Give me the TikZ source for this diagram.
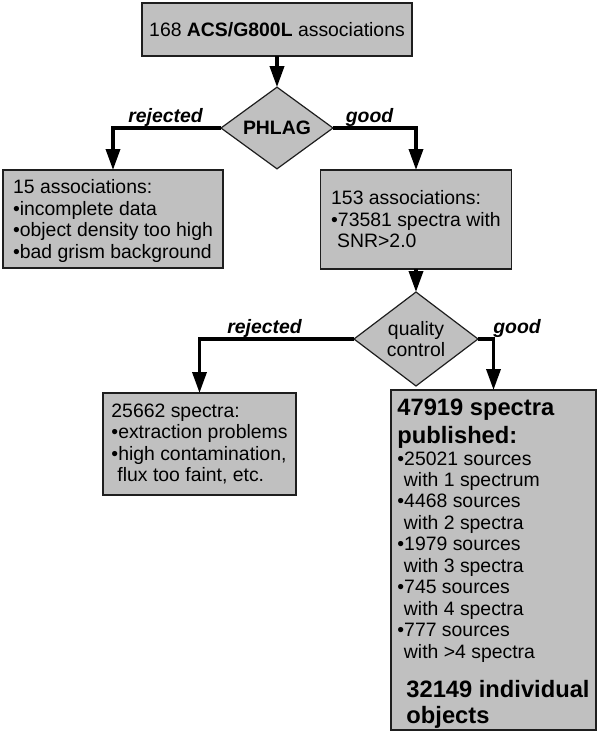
\documentclass[tikz,border=0pt]{standalone}
\usepackage{fontspec}
\setmainfont{Liberation Sans}
\usetikzlibrary{arrows.meta,shapes.geometric}
\definecolor{boxgray}{RGB}{192,192,192}
\definecolor{edgegray}{RGB}{30,30,30}
\newcommand\fs{\fontsize{19.4}{21.45}\selectfont}
\newcommand\fbig{\fontsize{23.7}{27}\selectfont\bfseries}
\tikzset{
  box/.style={draw=edgegray, line width=1.2pt, fill=boxgray, align=left,
    inner sep=0pt, outer sep=0pt, font=\fs},
  dia/.style={diamond, draw=edgegray, line width=1.2pt, fill=boxgray, align=center,
    inner sep=0pt, outer sep=0pt, font=\fs},
  arr/.style={line width=3.5pt, -{Triangle[length=21pt,width=14pt]}},
  lbl/.style={font=\fs\bfseries\itshape, inner sep=0pt, anchor=base},
}
\begin{document}
\begin{tikzpicture}[x=1pt,y=-1pt]
\fill[white] (0,0) rectangle (600,734);
\useasboundingbox (0,0) rectangle (600,734);

\node[box, align=center, minimum width=270pt, minimum height=53pt] (top) at (277,29.5)
  {168 \textbf{ACS/G800L} associations};
\node[dia, minimum width=112pt, minimum height=70pt] (phlag) at (277,128) {\textbf{PHLAG}};

\node[box, minimum width=220pt, minimum height=98pt] (rej1) at (113,219)
  {\rule{0pt}{18pt}15 associations:\\ •incomplete data\\ •object density too high\\ •bad grism background};
\node[box, minimum width=191pt, minimum height=99pt] (good1) at (416,219.5)
  {153 associations:\\ •73581 spectra with\\ \hspace*{6pt}SNR>2.0};

\node[dia, minimum width=124pt, minimum height=88pt] (qc) at (416,339) {quality\\control};

\node[box, minimum width=193pt, minimum height=102pt] (rej2) at (199.5,444)
  {25662 spectra:\\ •extraction problems\\ •high contamination,\\ \hspace*{6pt}flux too faint, etc.};
\node[box, minimum width=205pt, minimum height=340pt] (pub) at (493.5,560)
  {{\fbig\rule{0pt}{23pt}47919 spectra}\\[5.5pt]
   {\fbig published:}\\
   •25021 sources\\ \hspace*{6.5pt}with 1 spectrum\\
   •4468 sources\\ \hspace*{6.5pt}with 2 spectra\\
   •1979 sources\\ \hspace*{6.5pt}with 3 spectra\\
   •745 sources\\ \hspace*{6.5pt}with 4 spectra\\
   •777 sources\\ \hspace*{6.5pt}with >4 spectra\\[17.5pt]
   {\fbig\hspace*{9pt}32149 individual}\\[4.5pt]
   {\fbig\hspace*{9pt}objects}};

\draw[arr] (top.south) -- (phlag.north);
\draw[arr] (phlag.west) -| (rej1.north);
\draw[arr] (phlag.east) -| (good1.north);
\draw[arr] (good1.south) -- (qc.north);
\draw[arr] (qc.west) -| (rej2.north);
\draw[arr] (qc.east) -| (pub.north);

\node[lbl] (lr1) at (165.5,122) {rejected};
\node[lbl] (lg1) at (369.5,122) {good};
\node[lbl] (lr2) at (264.5,333) {rejected};
\node[lbl] (lg2) at (517,333) {good};
\end{tikzpicture}
\end{document}
